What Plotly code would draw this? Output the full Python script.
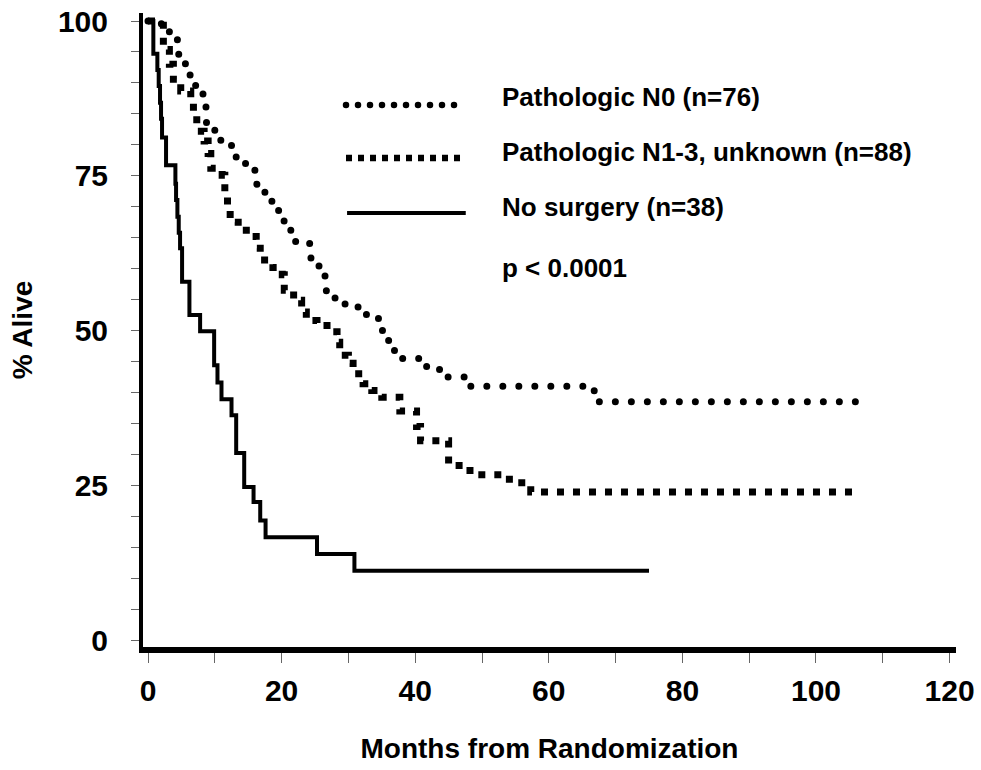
import plotly.graph_objects as go

# ---------------- data ----------------
# Pathologic N0 (n=76): step times (months) and % alive
n0_months = [0, 2.0, 3.2, 4.4, 4.6, 5.6, 6.3, 7.6, 8.4, 8.7, 10.0, 10.9, 12.5, 13.2, 14.6,
             16.0, 16.3, 17.5, 18.8, 19.9, 21.0, 22.0, 24.2, 25.6, 26.5, 26.7, 28.0, 29.5,
             32.7, 34.5, 35.1, 36.9, 40.6, 42.7, 44.0, 47.4, 66.8, 107.8]
n0_alive = [100, 98.7, 97.4, 96.1, 93.6, 91.9, 89.6, 88.2, 86.1, 83.6, 82.2, 80.3, 79.5, 77.5, 76.3,
            74.9, 72.5, 70.9, 69.4, 67.7, 66.2, 64.4, 61.7, 60.4, 58.4, 55.9, 54.8, 53.8,
            52.1, 51.1, 48.4, 45.5, 44.2, 43.7, 42.5, 41.0, 38.5, 38.5]

# Pathologic N1-3, unknown (n=88)
n13_months = [0, 2.3, 3.2, 3.8, 4.9, 6.4, 6.8, 7.3, 8.4, 9.0, 9.4, 11.1, 11.5, 11.9, 12.3, 13.5,
              15.4, 16.2, 16.8, 18.7, 20.1, 20.4, 21.8, 23.0, 23.7, 25.3, 26.8, 28.3, 28.7, 30.0,
              30.7, 32.2, 33.5, 35.0, 37.7, 40.2, 40.8, 45.0, 48.2, 54.1, 57.3, 106.3]
n13_alive = [100, 95.4, 93.0, 90.6, 88.7, 87.3, 84.7, 82.2, 80.6, 78.6, 76.2, 75.1, 72.4, 70.0, 67.5, 66.2,
             65.2, 63.3, 61.4, 60.2, 59.0, 56.5, 54.9, 53.0, 51.6, 50.8, 49.8, 48.1, 46.0, 44.7,
             43.0, 41.4, 40.3, 39.2, 37.0, 34.5, 32.2, 28.2, 26.7, 25.4, 23.9, 23.9]

# No surgery (n=38)
ns_months = [0, 0.8, 1.4, 1.6, 1.8, 1.95, 2.1, 2.7, 4.1, 4.2, 4.4, 4.6, 4.8, 5.1, 6.2, 7.8,
             9.9, 10.4, 11.0, 12.5, 13.2, 14.4, 15.8, 16.8, 17.6, 25.3, 30.9, 75.0]
ns_alive = [100, 94.7, 92.1, 89.5, 86.8, 84.2, 81.2, 76.7, 73.7, 71.1, 68.4, 65.8, 63.3, 57.9, 52.5, 49.9,
            44.4, 41.6, 38.9, 36.3, 30.2, 24.7, 22.3, 19.3, 16.6, 13.9, 11.2, 11.2]

series_names = ["Pathologic N0 (n=76)", "Pathologic N1-3, unknown (n=88)", "No surgery (n=38)"]
p_value_text = "p < 0.0001"

x_tick_values = list(range(0, 121, 10))
x_tick_labels = [str(v) if v % 20 == 0 else "" for v in x_tick_values]
y_tick_values = list(range(0, 101, 5))
y_tick_labels = [str(v) if v % 25 == 0 else "" for v in y_tick_values]

# ---------------- styles ----------------
FONT = "Liberation Sans, Arial, sans-serif"
dash_styles = ["0px,16px", "7px,9px", "solid"]
line_widths = [7, 7, 4]
legend_dash = ["0px,12px", "6px,6px", "solid"]
legend_widths = [6.5, 6.5, 4]

fig = go.Figure()
for name, xs, ys, dash, lw in zip(series_names,
                                  [n0_months, n13_months, ns_months],
                                  [n0_alive, n13_alive, ns_alive],
                                  dash_styles, line_widths):
    fig.add_trace(go.Scatter(
        x=xs, y=ys, mode="lines", name=name,
        line=dict(color="black", width=lw, dash=dash, shape="hv", simplify=False),
        showlegend=False, hoverinfo="skip"))

# manual legend (paper coordinates)
legend_x0 = [0.2497, 0.2497, 0.251]
legend_x1 = [0.3838, 0.390, 0.397]
legend_line_y = [0.8549, 0.7713, 0.6845]
legend_text_y = [0.8675, 0.7808, 0.694]
shapes = []
annotations = []
for i, name in enumerate(series_names):
    shapes.append(dict(type="line", xref="paper", yref="paper",
                       x0=legend_x0[i], x1=legend_x1[i], y0=legend_line_y[i], y1=legend_line_y[i],
                       line=dict(color="black", width=legend_widths[i], dash=legend_dash[i])))
    annotations.append(dict(text=name, xref="paper", yref="paper", x=0.4391, y=legend_text_y[i],
                            xanchor="left", yanchor="middle", showarrow=False,
                            font=dict(family=FONT, size=26, color="black", weight="bold")))
annotations.append(dict(text=p_value_text, xref="paper", yref="paper", x=0.4391, y=0.5978,
                        xanchor="left", yanchor="middle", showarrow=False,
                        font=dict(family=FONT, size=26, color="black", weight="bold")))

fig.update_layout(
    width=981, height=770,
    margin=dict(l=143, r=25, t=13, b=123),
    paper_bgcolor="white", plot_bgcolor="white",
    shapes=shapes, annotations=annotations,
    font=dict(family=FONT, color="black"),
    xaxis=dict(range=[-0.75, 120.96], showline=True, linewidth=6, linecolor="black",
               showgrid=False, zeroline=False, automargin=False,
               ticks="outside", ticklen=10, tickwidth=1, tickcolor="#666",
               tickvals=x_tick_values, ticktext=x_tick_labels,
               tickfont=dict(family=FONT, size=30, color="black", weight="bold"),
               ticklabelstandoff=2,
               title=dict(text="Months from Randomization", standoff=34,
                          font=dict(family=FONT, size=28, color="black", weight="bold"))),
    yaxis=dict(range=[-1.13, 101.3], showline=True, linewidth=4, linecolor="black",
               showgrid=False, zeroline=False, automargin=False,
               ticks="outside", ticklen=8, tickwidth=1, tickcolor="#666",
               tickvals=y_tick_values, ticktext=y_tick_labels,
               tickfont=dict(family=FONT, size=30, color="black", weight="bold"),
               ticklabelstandoff=17,
               title=dict(text="% Alive", standoff=18,
                          font=dict(family=FONT, size=28, color="black", weight="bold"))),
)

post = """
document.body.style.margin = '0';
document.body.style.overflow = 'hidden';
function roundDots(){
  document.querySelectorAll('path').forEach(function(p){
    var d = p.style.strokeDasharray || '';
    if (d.indexOf('0px') === 0) { p.style.strokeLinecap = 'round'; }
  });
}
roundDots();
var gd = document.getElementById('{plot_id}');
if (gd && gd.on) { gd.on('plotly_afterplot', roundDots); }
"""

fig.write_html("out.html", post_script=post,
               config={"displayModeBar": False, "staticPlot": True})
